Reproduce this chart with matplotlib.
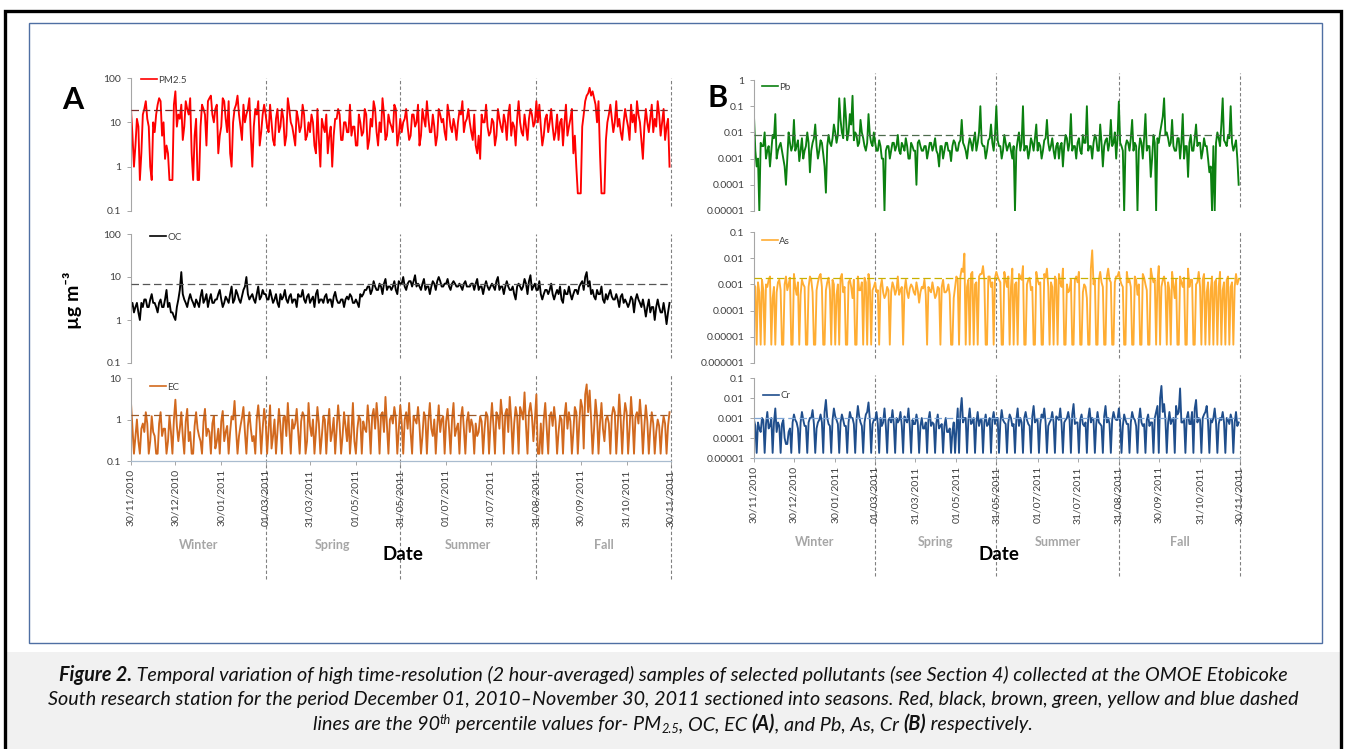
import numpy as np
import matplotlib
matplotlib.use("Agg")
import matplotlib.pyplot as plt
import matplotlib.dates as mdates
import matplotlib.transforms as mtransforms
from matplotlib.patches import Rectangle
from matplotlib.ticker import FixedLocator, FixedFormatter, NullLocator

plt.rcParams["font.family"] = ["Lato", "DejaVu Sans"]

# ── Data ──────────────────────────────────────────────────────────────────────
# *_even: samples on days 0, 2, 4 ... after 30/11/2010
# *_odd : samples on days 1, 3, 5 ...
start_date = "2010-11-30"

pm25_even = [20, 1, 12, 0.5, 15, 30, 8, 0.5, 6, 25, 30, 10, 3, 0.5, 0.5, 50, 15, 25, 8, 20,
             35, 0.5, 12, 0.5, 25, 15, 30, 40, 10, 25, 5, 35, 12, 30, 1, 20, 40, 8, 25, 15,
             35, 1, 20, 30, 6, 25,
             8, 25, 4, 12, 6, 20, 3, 35, 10, 5, 18, 6, 25, 4, 10, 15, 3, 20, 1, 8,
             15, 5, 1, 12, 20, 4, 10, 6, 25, 8, 3, 15, 5, 20, 2.5, 12, 30, 6, 10, 35,
             4, 15, 8, 25, 3, 12,
             10, 20, 4, 15, 8, 25, 5, 12, 30, 6, 15, 3, 20, 10, 6, 25, 8, 12, 4, 18,
             30, 10, 20, 6, 15, 2, 1.5, 10, 25, 5, 12, 3, 20, 8, 15, 4, 25, 10, 3, 30,
             6, 15, 4, 20, 8, 30,
             25, 3, 12, 6, 20, 4, 15, 10, 3, 25, 8, 20, 5, 0.25, 0.25, 15, 40, 60, 50, 25,
             30, 0.25, 0.25, 10, 25, 6, 30, 12, 4, 20, 8, 25, 15, 30, 10, 1.5, 20, 6, 25, 12,
             30, 5, 20, 8, 1]
pm25_odd = [5, 3, 8, 2, 20, 12, 1, 10, 15, 35, 5, 1.5, 2, 0.5, 25, 8, 12, 4, 30, 15,
            2, 5, 0.5, 8, 20, 3, 35, 15, 20, 2, 8, 30, 6, 2, 10, 25, 15, 4, 10, 20,
            5, 8, 15, 3, 15,
            15, 6, 10, 3, 20, 8, 12, 5, 20, 8, 3, 12, 8, 15, 5, 6, 10, 2, 4, 12,
            6, 2, 8, 5, 12, 15, 4, 10, 6, 5, 8, 3, 10, 6, 15, 4, 8, 20, 3, 6,
            15, 5, 10, 6, 20, 5,
            6, 12, 8, 5, 15, 10, 3, 20, 8, 12, 6, 8, 5, 15, 12, 4, 15, 6, 8, 10,
            15, 6, 12, 10, 4, 3, 5, 15, 10, 8, 6, 10, 5, 12, 6, 10, 15, 5, 8, 12,
            10, 5, 8, 12, 15, 10,
            10, 8, 5, 15, 10, 8, 6, 4, 12, 10, 5, 12, 2, 1, 0.25, 8, 30, 45, 40, 35,
            10, 2, 0.25, 4, 15, 12, 10, 8, 6, 10, 12, 4, 10, 6, 15, 4, 8, 10, 12, 6,
            8, 15, 10, 4, 12]

oc_even = [2, 1.5, 2.5, 1, 2, 3, 2, 4, 2.5, 1.5, 3, 2, 5, 2.5, 1.5, 1, 3, 13, 3, 2,
           4, 2.5, 3, 2, 5, 3, 2, 4, 2.5, 3, 5, 2, 3.5, 2.5, 6, 3, 4, 2.5, 5, 10,
           3, 4, 2.5, 6, 3.5, 4,
           3, 5, 2.5, 4, 2, 3, 5, 2.5, 4, 3, 2, 3.5, 5, 2.5, 4, 3, 2, 5, 3, 2.5,
           4, 3, 2, 4.5, 2.5, 3, 2, 3.5, 4, 2.5, 3, 2, 3.5, 5, 6, 4, 8, 5, 7, 4,
           9, 6, 5, 8, 4, 7,
           10, 5, 8, 6, 11, 7, 5, 9, 6, 4, 8, 5, 10, 6, 7, 9, 5, 8, 6, 7,
           5, 8, 6, 7, 5, 9, 6, 4, 8, 5, 7, 5, 10, 6, 4, 8, 5, 6, 3, 7,
           5, 9, 4, 11, 6, 5,
           8, 3, 5, 4, 7, 3, 5, 6, 2.5, 4, 6, 3, 5, 4, 7, 5, 13, 8, 5, 3,
           4, 6, 2.5, 3, 5, 3, 4, 2, 4, 3, 2, 3.5, 1.5, 4, 2.5, 3, 1.2, 3, 2, 1,
           3, 1.5, 2.5, 0.8, 2.5]
oc_odd = [2.5, 2, 1.5, 2.5, 3, 2, 3, 2.5, 2, 2.5, 2, 3, 2, 1.5, 1.2, 2, 5, 4, 2.5, 3,
          3, 2, 2.5, 3.5, 2.5, 4, 3, 2.5, 3, 4, 3, 2.5, 3, 4, 2.5, 5, 3, 3.5, 6, 4,
          3.5, 3, 4, 3, 5,
          4, 3, 3.5, 3, 2.5, 4, 3.5, 3, 3.5, 2.5, 3, 4, 3.5, 3, 3.5, 2.5, 3.5, 4, 2.5, 3,
          3.5, 2.5, 3, 3.5, 3, 2.5, 3, 3, 3, 3.5, 2.5, 2.5, 4, 4, 5, 6, 5, 6, 5, 6,
          7, 5, 6, 6, 5, 8,
          7, 6, 7, 8, 8, 6, 6, 7, 5, 6, 6, 7, 8, 8, 6, 7, 6, 7, 7, 6,
          6, 7, 6, 6, 7, 7, 5, 6, 6, 6, 6, 6, 8, 5, 6, 6, 6, 5, 4, 6,
          6, 6, 7, 8, 5, 7,
          5, 4, 4, 5, 5, 4, 4, 4, 3, 5, 4, 4, 4, 5, 6, 8, 10, 6, 4, 3.5,
          5, 4, 3, 4, 4, 3.5, 3, 3, 3.5, 2.5, 2.5, 2.5, 3, 3, 3, 2, 2, 2, 1.5, 2,
          2, 2, 1.5, 1.5, 1.5]

ec_even = [2.5, 0.15, 1, 0.15, 0.8, 1.5, 0.15, 1.2, 0.4, 0.15, 1.5, 0.6, 0.15, 1.2, 0.15, 3, 0.3, 1.5, 0.15, 1.8,
           0.5, 0.15, 1.5, 0.4, 0.15, 1.8, 0.6, 0.15, 1.2, 0.3, 0.15, 1.6, 0.5, 0.15, 1.2, 2.8, 0.15, 0.7, 2, 0.15,
           1.5, 0.3, 0.15, 2.2, 0.15, 1.8,
           0.15, 2.2, 0.4, 0.15, 1.8, 0.15, 1.2, 2.5, 0.15, 0.6, 1.8, 0.15, 1.5, 0.15, 2.5, 0.4, 0.15, 2, 0.15, 1.2,
           0.15, 1.8, 0.5, 0.15, 2.2, 0.15, 1.5, 0.3, 0.15, 2.5, 0.15, 1.2, 0.15, 0.6, 2.2, 0.15, 1.8, 2.5, 0.15, 1.5,
           3.5, 0.15, 1.2, 2, 0.15, 2.2,
           0.15, 1.5, 2.5, 0.15, 1, 2, 0.15, 1.5, 0.15, 2.5, 0.4, 0.15, 2.2, 1, 0.15, 1.8, 0.15, 2.5, 0.6, 0.15,
           2, 0.15, 1.5, 1, 0.15, 0.4, 1.2, 0.15, 1.5, 0.15, 2.5, 0.15, 1.2, 3, 0.15, 1.8, 3.5, 0.15, 2, 0.15,
           1.5, 4.5, 0.15, 2.5, 0.3, 4,
           0.15, 0.15, 2.5, 0.15, 1.5, 2, 0.15, 1.2, 0.15, 2.5, 1.5, 0.15, 2, 0.15, 3, 0.2, 7, 5, 0.15, 3,
           0.15, 2.5, 0.3, 1.2, 0.15, 2, 0.15, 4, 0.15, 2.5, 0.15, 3.5, 0.15, 1.5, 3, 0.15, 2.2, 0.15, 1.5, 0.15,
           1, 0.15, 1.2, 0.15, 1.5]
ec_odd = [0.6, 0.4, 0.3, 0.6, 0.5, 0.8, 0.3, 0.5, 0.15, 0.8, 0.4, 0.6, 0.3, 0.5, 1, 0.7, 0.6, 0.4, 0.9, 0.3,
          0.15, 0.7, 0.6, 0.3, 0.9, 0.4, 0.5, 0.8, 0.2, 0.6, 0.9, 0.3, 0.7, 0.5, 1, 0.6, 0.4, 1.1, 0.5, 0.7,
          0.6, 0.4, 1, 0.8, 0.6,
          0.9, 0.6, 0.2, 1, 0.5, 0.7, 1.1, 0.4, 0.6, 1, 0.8, 0.5, 0.9, 1.2, 0.3, 0.7, 1, 0.5, 0.8, 0.4,
          1, 0.7, 0.3, 1.1, 0.6, 0.8, 0.4, 0.7, 1.2, 0.5, 0.3, 0.6, 1, 0.9, 0.5, 0.8, 1.2, 0.6, 0.9, 1.3,
          0.5, 0.7, 1, 0.8, 1.1, 0.6,
          0.8, 1, 0.6, 0.5, 1.2, 0.8, 0.7, 0.4, 1.1, 0.9, 0.6, 1, 0.7, 0.5, 1.2, 0.9, 0.6, 1, 0.4, 0.8,
          1.1, 0.6, 0.9, 0.5, 0.7, 0.8, 0.5, 0.9, 0.6, 1.2, 0.8, 0.7, 1.5, 0.6, 1.2, 1.4, 0.5, 1, 0.8, 1.2,
          2, 1, 0.7, 1.5, 1.2, 1,
          0.15, 0.8, 1, 0.6, 1.2, 0.7, 0.9, 0.5, 1, 1.2, 0.6, 0.9, 0.5, 1.5, 0.8, 2, 4, 1.5, 1, 0.6,
          1.2, 0.8, 0.6, 1, 0.8, 1.2, 1.5, 0.7, 1, 0.9, 1.5, 0.6, 1, 1.2, 0.8, 1, 0.7, 0.9, 0.6, 0.8,
          0.5, 0.7, 0.6, 0.8, 0.7]

pb_even = [0.04, 0.0005, 0.00001, 0.003, 0.01, 0.002, 0.0005, 0.008, 0.05, 0.002,
           0.004, 0.001, 0.0001, 0.01, 0.002, 0.03, 0.003, 0.0008, 0.006, 0.002,
           0.01, 0.0003, 0.004, 0.02, 0.001, 0.005, 0.0015, 0.00005, 0.008, 0.003,
           0.02, 0.004, 0.2, 0.01, 0.2, 0.005, 0.05, 0.25, 0.01, 0.003,
           0.03, 0.006, 0.002, 0.05, 0.004, 0.01,
           0.002, 0.005, 0.001, 0.00001, 0.003, 0.001, 0.004, 0.002, 0.008, 0.0015,
           0.003, 0.006, 0.001, 0.004, 0.002, 0.0001, 0.005, 0.002, 0.003, 0.001,
           0.004, 0.002, 0.006, 0.0015, 0.003, 0.001, 0.004, 0.002, 0.0008, 0.005,
           0.002, 0.004, 0.03, 0.003, 0.001, 0.006, 0.002, 0.01, 0.004, 0.1,
           0.003, 0.001, 0.005, 0.02, 0.002, 0.1,
           0.003, 0.001, 0.008, 0.002, 0.004, 0.001, 0.00001, 0.005, 0.002, 0.1,
           0.003, 0.001, 0.006, 0.002, 0.02, 0.004, 0.001, 0.005, 0.03, 0.002,
           0.006, 0.001, 0.004, 0.003, 0.0005, 0.008, 0.002, 0.05, 0.003, 0.001,
           0.006, 0.0015, 0.004, 0.1, 0.003, 0.001, 0.008, 0.002, 0.02, 0.0005,
           0.005, 0.002, 0.03, 0.004, 0.001, 0.15,
           0.003, 0.00001, 0.005, 0.002, 0.03, 0.004, 0.00001, 0.006, 0.001, 0.05,
           0.003, 0.0002, 0.008, 0.00001, 0.004, 0.02, 0.2, 0.01, 0.003, 0.03,
           0.002, 0.006, 0.001, 0.05, 0.003, 0.0002, 0.008, 0.002, 0.02, 0.004,
           0.001, 0.006, 0.003, 0.0003, 0.00001, 0.00001, 0.01, 0.003, 0.2, 0.004,
           0.008, 0.1, 0.002, 0.005, 0.0001]
pb_odd = [0.002, 0.001, 0.004, 0.003, 0.001, 0.003, 0.002, 0.006, 0.001, 0.003,
          0.002, 0.0005, 0.001, 0.004, 0.003, 0.002, 0.005, 0.002, 0.001, 0.003,
          0.004, 0.002, 0.006, 0.003, 0.002, 0.004, 0.0005, 0.003, 0.004, 0.006,
          0.01, 0.008, 0.03, 0.006, 0.04, 0.01, 0.02, 0.005, 0.008, 0.004,
          0.01, 0.003, 0.004, 0.008, 0.003,
          0.004, 0.002, 0.003, 0.001, 0.002, 0.003, 0.002, 0.004, 0.003, 0.002,
          0.004, 0.002, 0.003, 0.001, 0.003, 0.002, 0.004, 0.003, 0.002, 0.003,
          0.002, 0.004, 0.003, 0.002, 0.0005, 0.003, 0.002, 0.004, 0.002, 0.003,
          0.004, 0.002, 0.005, 0.004, 0.002, 0.003, 0.004, 0.005, 0.002, 0.01,
          0.004, 0.003, 0.002, 0.006, 0.004, 0.008,
          0.005, 0.003, 0.002, 0.004, 0.003, 0.002, 0.003, 0.002, 0.01, 0.004,
          0.002, 0.003, 0.002, 0.004, 0.006, 0.002, 0.003, 0.002, 0.006, 0.004,
          0.003, 0.002, 0.003, 0.001, 0.004, 0.003, 0.006, 0.004, 0.002, 0.003,
          0.004, 0.002, 0.008, 0.004, 0.002, 0.003, 0.004, 0.006, 0.002, 0.004,
          0.003, 0.006, 0.004, 0.003, 0.01, 0.006,
          0.004, 0.002, 0.003, 0.004, 0.006, 0.002, 0.003, 0.002, 0.004, 0.006,
          0.002, 0.003, 0.001, 0.004, 0.006, 0.01, 0.04, 0.008, 0.006, 0.004,
          0.003, 0.002, 0.006, 0.004, 0.001, 0.003, 0.004, 0.002, 0.006, 0.003,
          0.004, 0.002, 0.003, 0.001, 0.0005, 0.003, 0.004, 0.006, 0.02, 0.005,
          0.003, 0.006, 0.004, 0.003, 0.001]

as_even = [0.001, 5e-6, 0.0005, 0.0015, 5e-6, 0.0008, 0.002, 0.0003, 5e-6, 0.0012,
           0.0006, 5e-6, 0.002, 0.001, 5e-6, 0.0025, 0.0004, 5e-6, 0.0015, 0.0008,
           5e-6, 0.002, 0.0005, 5e-6, 0.0012, 0.0025, 5e-6, 0.0006, 0.0018, 5e-6,
           0.001, 0.0004, 5e-6, 0.0025, 0.0008, 5e-6, 0.0015, 0.0003, 5e-6, 0.002,
           0.0006, 5e-6, 0.0012, 0.0025, 5e-6, 0.0008,
           0.0005, 5e-6, 0.0015, 0.0003, 0.0008, 5e-6, 0.0012, 0.0004, 0.002, 0.0006,
           5e-6, 0.0015, 0.0003, 0.001, 0.0005, 0.0012, 0.0002, 0.0008, 0.0015, 5e-6,
           0.0006, 0.0012, 0.0003, 0.0008, 5e-6, 0.0015, 0.0005, 0.001, 5e-6, 0.0003,
           0.002, 5e-6, 0.004, 0.015, 0.0008, 5e-6, 0.003, 0.001, 5e-6, 0.0025,
           0.005, 5e-6, 0.002, 0.0008, 5e-6, 0.003,
           0.0015, 5e-6, 0.003, 0.0008, 5e-6, 0.004, 0.001, 5e-6, 0.002, 0.005,
           5e-6, 0.0015, 0.0006, 5e-6, 0.003, 0.001, 5e-6, 0.0025, 0.004, 5e-6,
           0.0008, 0.002, 5e-6, 0.0012, 0.004, 5e-6, 0.0005, 0.0015, 5e-6, 0.002,
           0.003, 5e-6, 0.001, 0.0003, 5e-6, 0.02, 0.0015, 5e-6, 0.003, 0.0008,
           5e-6, 0.004, 0.0012, 5e-6, 0.002, 0.003,
           0.001, 5e-6, 0.003, 0.0015, 5e-6, 0.002, 0.0004, 5e-6, 0.0025, 0.001,
           5e-6, 0.004, 0.0012, 5e-6, 0.005, 0.0008, 0.002, 5e-6, 0.0006, 0.003,
           0.0003, 5e-6, 0.002, 0.0008, 5e-6, 0.004, 0.0015, 5e-6, 0.001, 0.003,
           5e-6, 0.0025, 0.0005, 5e-6, 0.002, 0.0012, 5e-6, 0.003, 0.0006, 5e-6,
           0.002, 0.0008, 5e-6, 0.0025, 0.0015]
as_odd = [0.0008, 0.0012, 5e-6, 0.0006, 0.001, 0.0015, 5e-6, 0.0008, 0.0005, 0.0015,
          5e-6, 0.001, 0.0006, 0.0018, 5e-6, 0.0008, 0.0012, 0.0004, 0.001, 5e-6,
          0.0008, 0.0015, 5e-6, 0.0006, 0.002, 0.0008, 5e-6, 0.0012, 0.0006, 0.0015,
          5e-6, 0.001, 0.0018, 0.0005, 5e-6, 0.0012, 0.0008, 0.0015, 5e-6, 0.0006,
          0.0012, 0.0018, 5e-6, 0.001, 0.0006,
          0.0012, 0.0006, 0.0008, 0.0005, 0.0004, 0.0006, 0.0005, 0.0008, 0.0006, 0.0004,
          0.0008, 0.0006, 0.0005, 0.0007, 0.0008, 0.0004, 0.0006, 0.0005, 0.0007, 0.0004,
          0.0008, 0.0005, 0.0006, 0.0004, 0.0007, 0.0008, 0.0005, 0.0006, 0.0004, 5e-6,
          0.0008, 0.0015, 0.002, 0.003, 5e-6, 0.0015, 0.0025, 5e-6, 0.0012, 0.002,
          0.0025, 0.0015, 5e-6, 0.002, 0.0012, 0.0018,
          0.002, 0.0012, 5e-6, 0.0015, 0.002, 0.0008, 5e-6, 0.0012, 0.0025, 0.0015,
          5e-6, 0.001, 0.0018, 0.0008, 5e-6, 0.0015, 0.0012, 5e-6, 0.0018, 0.0008,
          0.0012, 5e-6, 0.0015, 0.0025, 0.0008, 5e-6, 0.001, 0.0006, 5e-6, 0.0015,
          0.0012, 5e-6, 0.0005, 0.0008, 5e-6, 0.004, 0.001, 5e-6, 0.0015, 0.0012,
          5e-6, 0.002, 0.0015, 5e-6, 0.0012, 0.002,
          0.0015, 0.0008, 5e-6, 0.0012, 0.0008, 5e-6, 0.0015, 0.001, 5e-6, 0.0018,
          0.0006, 5e-6, 0.002, 0.0015, 0.0012, 5e-6, 0.0015, 0.0008, 0.0012, 5e-6,
          0.001, 0.0015, 5e-6, 0.0012, 0.0018, 5e-6, 0.0008, 0.0015, 5e-6, 0.0012,
          0.0008, 0.0015, 5e-6, 0.0012, 0.0006, 5e-6, 0.0015, 0.0008, 5e-6, 0.0012,
          0.0015, 5e-6, 0.0012, 0.0008, 0.001]

cr_even = [0.0008, 1.8e-5, 0.0003, 0.001, 1.8e-5, 0.002, 0.0004, 1.8e-5, 0.003, 0.0006,
           1.8e-5, 0.0008, 5e-5, 0.0002, 1.8e-5, 0.0015, 0.0006, 1.8e-5, 0.002, 0.0004,
           1.8e-5, 0.001, 0.0025, 1.8e-5, 0.0006, 0.0015, 1.8e-5, 0.008, 0.0005, 1.8e-5,
           0.003, 0.0008, 1.8e-5, 0.0015, 0.0004, 1.8e-5, 0.002, 0.001, 1.8e-5, 0.004,
           0.0006, 1.8e-5, 0.0015, 0.006, 1.8e-5, 0.0008,
           0.002, 1.8e-5, 0.0004, 0.003, 1.8e-5, 0.001, 0.0025, 1.8e-5, 0.0006, 0.002,
           1.8e-5, 0.0008, 0.003, 1.8e-5, 0.0005, 0.0015, 1.8e-5, 0.001, 0.0003, 1.8e-5,
           0.002, 0.0006, 1.8e-5, 0.0015, 0.0004, 1.8e-5, 0.001, 0.0002, 1.8e-5, 0.0006,
           0.0003, 1.8e-5, 0.01, 0.001, 1.8e-5, 0.003, 0.0006, 1.8e-5, 0.002, 0.0008,
           1.8e-5, 0.0015, 0.0005, 1.8e-5, 0.002, 0.001,
           1.8e-5, 0.0025, 0.0006, 1.8e-5, 0.0015, 0.0004, 1.8e-5, 0.003, 0.001, 1.8e-5,
           0.002, 0.0005, 1.8e-5, 0.004, 0.0008, 1.8e-5, 0.0015, 0.003, 1.8e-5, 0.0006,
           0.002, 1.8e-5, 0.001, 0.003, 1.8e-5, 0.0008, 0.002, 1.8e-5, 0.005, 0.0006,
           1.8e-5, 0.0015, 0.0004, 1.8e-5, 0.003, 0.001, 1.8e-5, 0.002, 0.0005, 1.8e-5,
           0.004, 0.001, 1.8e-5, 0.002, 0.0008, 0.003,
           1.8e-5, 0.0015, 0.0005, 1.8e-5, 0.002, 0.0008, 1.8e-5, 0.003, 0.0004, 1.8e-5,
           0.0015, 0.0006, 1.8e-5, 0.002, 1.8e-5, 0.04, 0.005, 1.8e-5, 0.002, 0.0008,
           1.8e-5, 0.0015, 0.03, 0.0006, 1.8e-5, 0.002, 0.0005, 1.8e-5, 0.008, 0.001,
           1.8e-5, 0.0015, 0.004, 1.8e-5, 0.0006, 0.003, 1.8e-5, 0.001, 0.002, 1.8e-5,
           0.0008, 0.0015, 1.8e-5, 0.002, 0.0006]
cr_odd = [0.0004, 0.0006, 0.0002, 0.0008, 0.0005, 0.0003, 0.001, 0.0006, 0.0002, 0.0004,
          0.0005, 0.0001, 5e-5, 0.0003, 0.0006, 0.0008, 0.0003, 0.0006, 0.0008, 0.0004,
          0.0006, 0.001, 0.0005, 0.0003, 0.0008, 0.0006, 0.002, 0.001, 0.0004, 0.0008,
          0.0012, 0.0005, 0.0006, 0.0008, 0.0004, 0.0006, 0.001, 0.0005, 0.0008, 0.0012,
          0.0004, 0.0006, 0.002, 0.0008, 0.0005,
          0.0008, 0.0005, 0.001, 0.0006, 0.0004, 0.0008, 0.0006, 0.0005, 0.001, 0.0008,
          0.0004, 0.0012, 0.0006, 0.0004, 0.0008, 0.0005, 0.0006, 0.0004, 0.0003, 0.0006,
          0.0008, 0.0004, 0.0005, 0.0006, 0.0003, 0.0005, 0.0004, 0.0002, 0.0003, 0.0002,
          1.8e-5, 0.003, 0.002, 0.0006, 0.001, 0.0008, 0.0005, 0.001, 0.0006, 0.0004,
          0.0008, 0.0006, 0.0004, 0.001, 0.0008, 0.0005,
          0.001, 0.0006, 0.0008, 0.0005, 0.0006, 0.001, 0.0005, 0.0008, 0.0004, 0.0006,
          0.001, 0.0008, 0.0004, 0.0012, 0.0006, 0.0008, 0.0005, 0.001, 0.0006, 0.0004,
          0.0008, 0.0006, 0.0012, 0.0008, 0.0005, 0.0006, 0.001, 0.0008, 0.0015, 0.0005,
          0.0006, 0.0008, 0.0005, 0.0006, 0.001, 0.0006, 0.0008, 0.0005, 0.0006, 0.0004,
          0.0012, 0.0006, 0.0005, 0.0008, 0.001, 0.0008,
          0.0006, 0.0004, 0.0008, 0.0005, 0.0006, 0.001, 0.0004, 0.0008, 0.0006, 0.0005,
          0.0008, 0.0004, 0.0006, 0.001, 0.004, 0.01, 0.002, 0.0008, 0.0006, 0.0005,
          0.001, 0.004, 0.002, 0.0006, 0.0008, 0.001, 0.0005, 0.002, 0.003, 0.0006,
          0.0008, 0.001, 0.002, 0.0006, 0.0008, 0.001, 0.0006, 0.0005, 0.0008, 0.0006,
          0.001, 0.0005, 0.0008, 0.0006, 0.0004]

# 90th percentile values (dashed horizontal lines)
p90 = {"PM2.5": 18.6, "OC": 7.0, "EC": 1.26, "Pb": 0.0077, "As": 0.0017, "Cr": 0.001}

season_names = ["Winter", "Spring", "Summer", "Fall"]
season_bounds = ["2010-11-30", "2011-03-01", "2011-05-31", "2011-08-31", "2011-11-30"]
tick_dates = ["2010-11-30", "2010-12-30", "2011-01-30", "2011-03-01", "2011-03-31",
              "2011-05-01", "2011-05-31", "2011-07-01", "2011-07-31", "2011-08-31",
              "2011-09-30", "2011-10-31", "2011-11-30"]

yt_a = [["0.1", "1", "10", "100"], ["0.1", "1", "10", "100"], ["0.1", "1", "10"]]
yt_b = [["0.00001", "0.0001", "0.001", "0.01", "0.1", "1"],
        ["0.000001", "0.00001", "0.0001", "0.001", "0.01", "0.1"],
        ["0.00001", "0.0001", "0.001", "0.01", "0.1"]]


def series(even, odd):
    """Merge even-day and odd-day samples into one date-ordered series."""
    t0 = np.datetime64(start_date)
    d = np.concatenate([t0 + 2 * np.arange(len(even)), t0 + 1 + 2 * np.arange(len(odd))])
    v = np.concatenate([np.asarray(even, float), np.asarray(odd, float)])
    order = np.argsort(d)
    return d[order], v[order]


# ── Figure layout (pixel helpers) ─────────────────────────────────────────────
W, H = 1345, 749
fig = plt.figure(figsize=(W / 100, H / 100), dpi=100)
fig.patch.set_facecolor("white")


def rect(l, t, r, b):
    return [l / W, 1 - b / H, (r - l) / W, (b - t) / H]


def fx(x):
    return x / W


def fy(y):
    return 1 - y / H


# caption band, outer black frame, blue chart box
fig.patches.append(Rectangle((fx(7), fy(749)), fx(1333), (749 - 652) / H,
                             transform=fig.transFigure, fc="#f1f1f1", ec="none"))
fig.patches.append(Rectangle((fx(5), fy(760)), fx(1336), fy(11) - fy(760),
                             transform=fig.transFigure, fill=False, ec="black", lw=2.4))
fig.patches.append(Rectangle((fx(29), fy(643)), fx(1293), (643 - 23) / H,
                             transform=fig.transFigure, fill=False, ec="#4f6fa3", lw=1.0))

x0, x1 = np.datetime64(season_bounds[0]), np.datetime64(season_bounds[-1])
dash_dates = [np.datetime64(d) for d in season_bounds[1:]]
tick_dt = [np.datetime64(d) for d in tick_dates]

panels = [
    # name, (even, odd), colour, p90 colour, rect, ylim, yticks, legend px (x, y)
    ("PM2.5", (pm25_even, pm25_odd), "#ff0000", "#7a2a2a", rect(131, 78, 671, 211), (0.1, 100), yt_a[0], (141, 80)),
    ("OC", (oc_even, oc_odd), "#000000", "#555555", rect(131, 234, 671, 363), (0.1, 100), yt_a[1], (150, 237)),
    ("EC", (ec_even, ec_odd), "#d2691e", "#9c5a2a", rect(131, 378, 671, 461), (0.1, 10), yt_a[2], (150, 387)),
    ("Pb", (pb_even, pb_odd), "#0b8010", "#4d6b4d", rect(754, 80, 1240, 211), (1e-5, 1), yt_b[0], (762, 87)),
    ("As", (as_even, as_odd), "#ffad33", "#c8b000", rect(754, 232, 1240, 363), (1e-6, 0.1), yt_b[1], (762, 241)),
    ("Cr", (cr_even, cr_odd), "#1f4e8c", "#7fa6d6", rect(754, 378, 1240, 458), (1e-5, 0.1), yt_b[2], (763, 396)),
]

axes = []
for k, (name, (ev, od), col, pcol, r, ylim, ylabels, leg) in enumerate(panels):
    ax = fig.add_axes(r)
    ax.set_facecolor("none")
    x, v = series(ev, od)
    ax.plot(x, v, color=col, lw=1.35, zorder=2, label=name)
    ax.axhline(p90[name], color=pcol, lw=0.9, ls=(0, (6, 3)), zorder=3)
    ax.set_yscale("log")
    ax.set_ylim(*ylim)
    ax.set_xlim(x0, x1)
    ax.yaxis.set_major_locator(FixedLocator([float(s) for s in ylabels]))
    ax.yaxis.set_major_formatter(FixedFormatter(ylabels))
    ax.yaxis.set_minor_locator(NullLocator())
    ax.tick_params(axis="y", which="major", length=3, width=0.7, color="#a6a6a6",
                   labelsize=7.5, labelcolor="#404040", pad=4)
    for s in ("top", "right"):
        ax.spines[s].set_visible(False)
    ax.spines["left"].set_color("#a6a6a6")
    ax.spines["left"].set_linewidth(0.8)

    bottom = k in (2, 5)
    if bottom:
        ax.spines["bottom"].set_color("#a9bccf")
        ax.spines["bottom"].set_linewidth(0.9)
        ax.xaxis.set_major_locator(FixedLocator(mdates.date2num(tick_dt)))
        ax.xaxis.set_major_formatter(mdates.DateFormatter("%d/%m/%Y"))
        ax.xaxis.set_minor_locator(NullLocator())
        ax.tick_params(axis="x", length=3, width=0.7, color="#a6a6a6",
                       labelsize=7.5, labelcolor="#404040", pad=3, labelrotation=90)
    else:
        ax.spines["bottom"].set_visible(False)
        ax.tick_params(axis="x", bottom=False, labelbottom=False)
        ax.xaxis.set_minor_locator(NullLocator())

    # season boundary lines
    hpx = r[3] * H
    if bottom:
        ymin, ymax = -(118 / hpx), 1.04
    elif k == 3:
        ymin, ymax = 0.03, 1.05
    else:
        ymin, ymax = 0.04, 1.0
    for d in dash_dates:
        ax.axvline(d, ymin=ymin, ymax=ymax, color="#808080", lw=0.8,
                   ls=(0, (3, 2)), zorder=1, clip_on=False)

    # legend (Excel style, top-left inside)
    inv = ax.transAxes.inverted()
    lx, ly = inv.transform((leg[0], H - leg[1]))
    lg = ax.legend(loc="center left", bbox_to_anchor=(lx, ly), frameon=False, fontsize=7,
                   handlelength=1.6, handletextpad=0.15, borderpad=0, borderaxespad=0,
                   labelcolor="#404040")
    for h in lg.get_lines():
        h.set_linewidth(1.2)
    axes.append(ax)

# season labels, centred on each season along the date axis
for ax, ypx in ((axes[2], 545), (axes[5], 542)):
    tr = mtransforms.blended_transform_factory(ax.transData, fig.transFigure)
    for i, nm in enumerate(season_names):
        a = mdates.date2num(np.datetime64(season_bounds[i]))
        b = mdates.date2num(np.datetime64(season_bounds[i + 1]))
        fig.text((a + b) / 2, fy(ypx), nm, transform=tr, ha="center", va="center",
                 fontsize=9, color="#a6a6a6", fontweight="bold")

fig.text(fx(403), fy(555), "Date", ha="center", va="center", fontsize=13.5, fontweight="bold")
fig.text(fx(999), fy(555), "Date", ha="center", va="center", fontsize=13.5, fontweight="bold")
fig.text(fx(73), fy(300), "µg m⁻³", ha="center", va="center", rotation=90,
         fontsize=14, fontweight="bold")
fig.text(fx(73), fy(100), "A", ha="center", va="center", fontsize=22, fontweight="bold")
fig.text(fx(718), fy(98), "B", ha="center", va="center", fontsize=22, fontweight="bold")

# ── Caption with mixed styles ─────────────────────────────────────────────────
renderer = fig.canvas.get_renderer()
CAP = 14.2
styles = {
    "i": dict(fontsize=CAP, fontstyle="italic"),
    "bi": dict(fontsize=CAP, fontstyle="italic", fontweight="bold"),
    "sup": dict(fontsize=CAP * 0.65, fontstyle="italic"),
    "sub": dict(fontsize=CAP * 0.65, fontstyle="italic"),
}
shift = {"i": 0, "bi": 0, "sup": 6, "sub": -3}


def width(s, st):
    t = fig.text(0, 0, "|" + s + "|", **styles[st])
    w1 = t.get_window_extent(renderer).width
    t.set_text("||")
    w0 = t.get_window_extent(renderer).width
    t.remove()
    return w1 - w0


def rich_line(ybase, parts, xc=673):
    ws = [width(s, st) for s, st in parts]
    x = xc - sum(ws) / 2
    for (s, st), w in zip(parts, ws):
        fig.text(fx(x), fy(ybase - shift[st]), s, ha="left", va="baseline",
                 color="#111111", **styles[st])
        x += w


rich_line(681, [("Figure 2.", "bi"),
                (" Temporal variation of high time-resolution (2 hour-averaged) samples of selected "
                 "pollutants (see Section 4) collected at the OMOE Etobicoke", "i")])
rich_line(705, [("South research station for the period December 01, 2010\u2013November 30, 2011 "
                 "sectioned into seasons. Red, black, brown, green, yellow and blue dashed", "i")])
rich_line(730, [("lines are the 90", "i"), ("th", "sup"), (" percentile values for- PM", "i"),
                ("2.5", "sub"), (", OC, EC ", "i"), ("(A)", "bi"), (", and Pb, As, Cr ", "i"),
                ("(B)", "bi"), (" respectively.", "i")])

fig.savefig("out.png", dpi=100, facecolor="white")
